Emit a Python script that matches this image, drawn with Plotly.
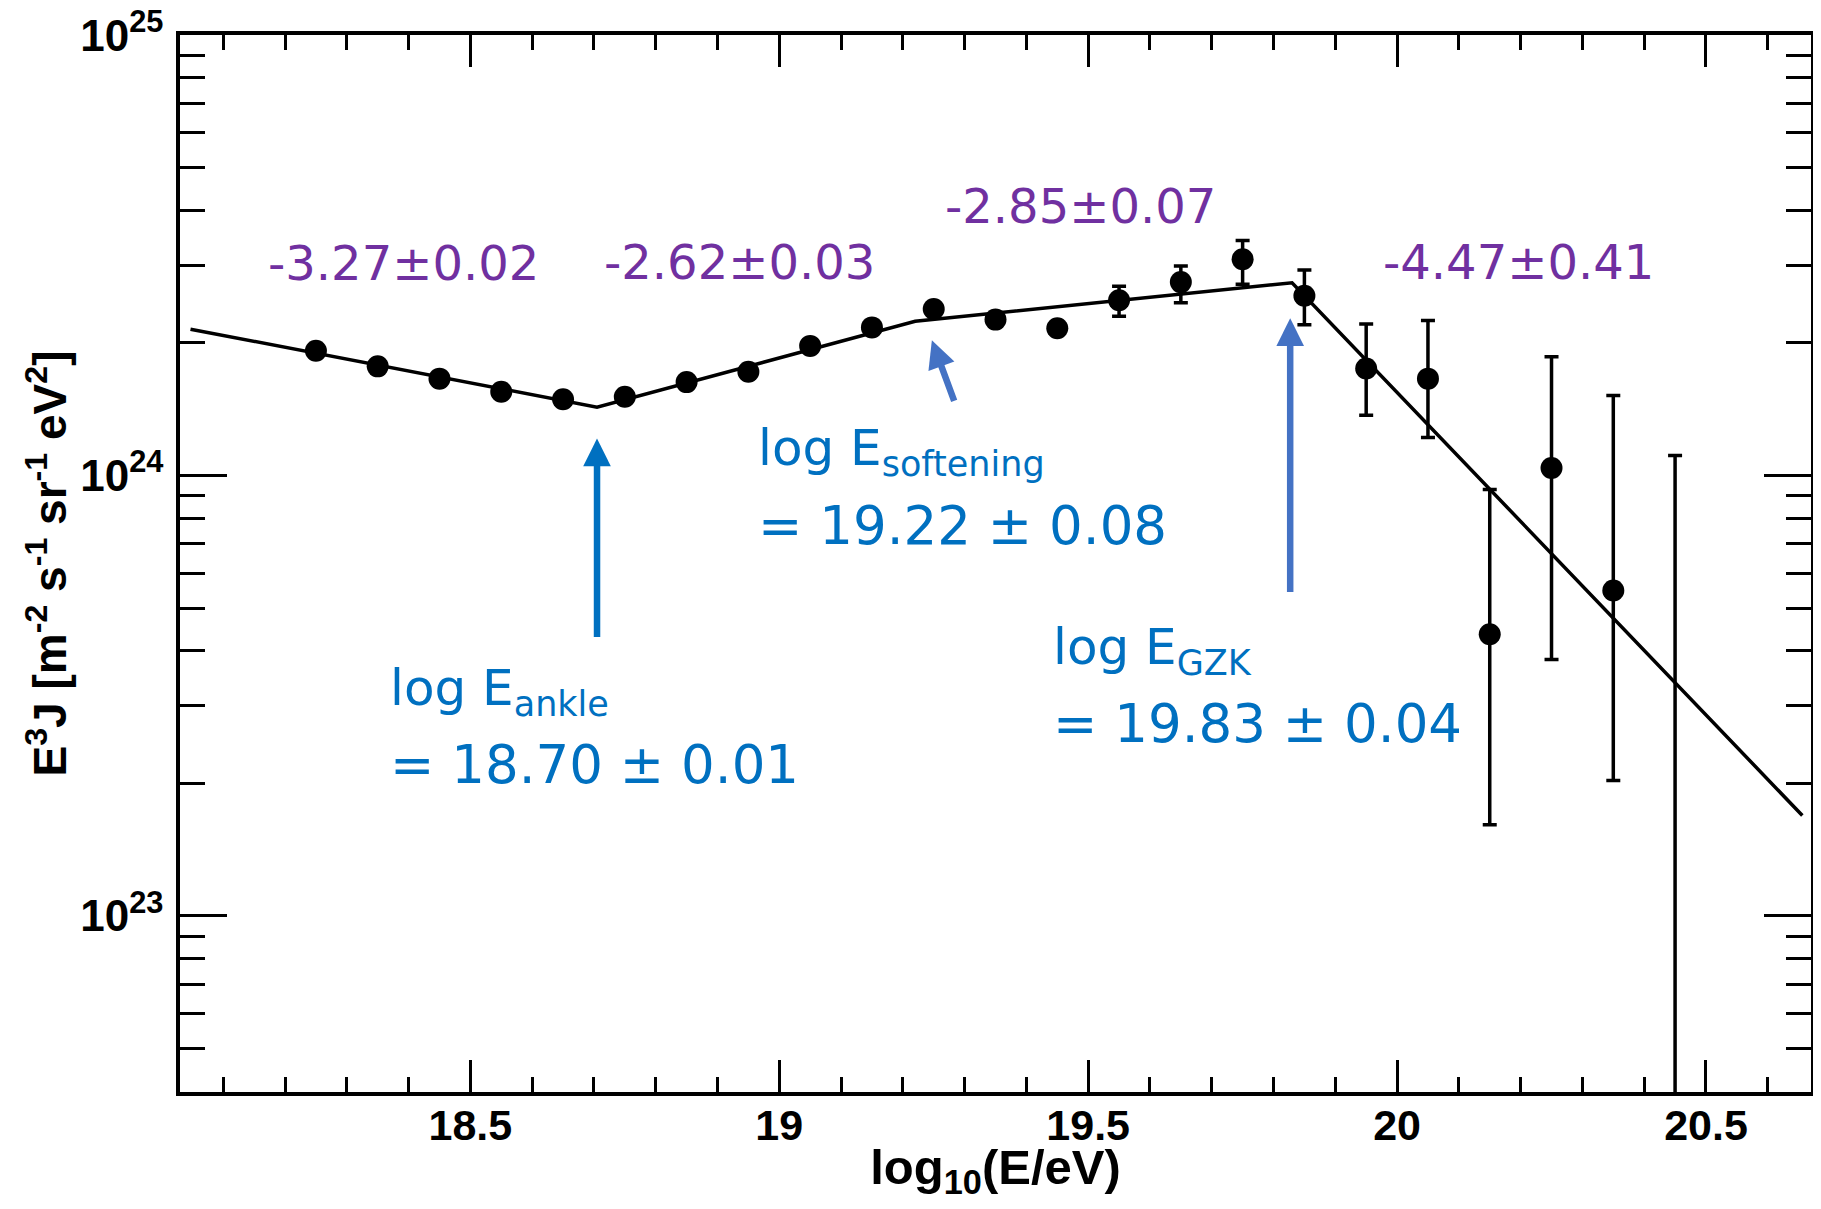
import plotly.graph_objects as go

# ---- data ----
log_e = [18.25, 18.35, 18.45, 18.55, 18.65, 18.75, 18.85, 18.95, 19.05, 19.15, 19.25,
         19.35, 19.45, 19.55, 19.65, 19.75, 19.85, 19.95, 20.05, 20.15, 20.25, 20.35]
e3j = [1.92e24, 1.77e24, 1.66e24, 1.55e24, 1.49e24, 1.51e24, 1.63e24, 1.72e24, 1.97e24, 2.17e24, 2.39e24,
       2.26e24, 2.16e24, 2.50e24, 2.75e24, 3.10e24, 2.56e24, 1.75e24, 1.66e24, 4.36e23, 1.04e24, 5.48e23]
e3j_upper = [1.92e24, 1.77e24, 1.66e24, 1.55e24, 1.49e24, 1.51e24, 1.63e24, 1.72e24, 1.97e24, 2.17e24, 2.39e24,
             2.26e24, 2.16e24, 2.69e24, 2.99e24, 3.42e24, 2.93e24, 2.21e24, 2.25e24, 9.3e23, 1.86e24, 1.52e24]
e3j_lower = [1.92e24, 1.77e24, 1.66e24, 1.55e24, 1.49e24, 1.51e24, 1.63e24, 1.72e24, 1.97e24, 2.17e24, 2.39e24,
             2.26e24, 2.16e24, 2.30e24, 2.47e24, 2.72e24, 2.20e24, 1.37e24, 1.22e24, 1.61e23, 3.82e23, 2.03e23]

# last bin: only the error bar is visible
last_log_e = [20.45]
last_upper = [1.11e24]
last_lower = [1.0e22]

# broken power-law fit (vertices)
fit_log_e = [18.047, 18.705, 19.22, 19.83, 20.656]
fit_e3j = [2.15e24, 1.43e24, 2.24e24, 2.74e24, 1.69e23]

# spectral indices
index_labels = ["-3.27±0.02", "-2.62±0.03", "-2.85±0.07", "-4.47±0.41"]
index_x = [18.392, 18.935, 19.487, 20.197]
index_y = [24.482, 24.486, 24.612, 24.486]

# break annotations
break_names = ["log E<sub>ankle</sub>", "log E<sub>softening</sub>", "log E<sub>GZK</sub>"]
break_values = ["= 18.70 ± 0.01", "= 19.22 ± 0.08", "= 19.83 ± 0.04"]
break_text_x = [18.366, 18.963, 19.440]
break_name_y = [23.509, 24.055, 23.602]
break_value_y = [23.344, 23.886, 23.4375]
arrow_head = [(18.705, 24.084), (19.247, 24.307), (19.827, 24.357)]
arrow_tail = [(18.705, 23.630), (19.284, 24.166), (19.827, 23.732)]
arrow_colors = ["#0070C0", "#4472C4", "#4472C4"]

y_major = [1e23, 1e24, 1e25]
y_major_text = ["10<sup>23</sup>", "10<sup>24</sup>", "10<sup>25</sup>"]
y_minor = [k * 10.0 ** n for n in (22, 23, 24) for k in range(2, 10)]

PURPLE = "#7030A0"
BLUE = "#0070C0"
TXT_FONT = "DejaVu Sans"
AX_FONT = "Liberation Sans"

fig = go.Figure()

fig.add_trace(go.Scatter(
    x=fit_log_e, y=fit_e3j, mode="lines",
    line=dict(color="black", width=3.5), showlegend=False, hoverinfo="skip"))

fig.add_trace(go.Scatter(
    x=log_e, y=e3j, mode="markers",
    marker=dict(color="black", size=22, symbol="circle"),
    error_y=dict(type="data", symmetric=False,
                 array=[u - v for u, v in zip(e3j_upper, e3j)],
                 arrayminus=[v - l for v, l in zip(e3j, e3j_lower)],
                 color="black", thickness=3.5, width=7),
    showlegend=False))

fig.add_trace(go.Scatter(
    x=last_log_e, y=last_upper, mode="markers",
    marker=dict(color="rgba(0,0,0,0)", size=1),
    error_y=dict(type="data", symmetric=False, array=[0],
                 arrayminus=[u - l for u, l in zip(last_upper, last_lower)],
                 color="black", thickness=3.5, width=7),
    showlegend=False))

annotations = []
for t, x, y in zip(index_labels, index_x, index_y):
    annotations.append(dict(x=x, y=y, xref="x", yref="y", text=t, showarrow=False,
                            xanchor="center", yanchor="middle",
                            font=dict(family=TXT_FONT, size=48, color=PURPLE)))
for n, v, x, yn, yv in zip(break_names, break_values, break_text_x, break_name_y, break_value_y):
    annotations.append(dict(x=x, y=yn, xref="x", yref="y", text=n, showarrow=False,
                            xanchor="left", yanchor="middle",
                            font=dict(family=TXT_FONT, size=50, color=BLUE)))
    annotations.append(dict(x=x, y=yv, xref="x", yref="y", text=v, showarrow=False,
                            xanchor="left", yanchor="middle",
                            font=dict(family=TXT_FONT, size=53, color=BLUE)))
for (hx, hy), (tx, ty), c in zip(arrow_head, arrow_tail, arrow_colors):
    annotations.append(dict(x=hx, y=hy, xref="x", yref="y", ax=tx, ay=ty,
                            axref="x", ayref="y", text="", showarrow=True,
                            arrowhead=2, arrowsize=0.85, arrowwidth=6.5,
                            arrowcolor=c, standoff=0))

# the page body has an 8px margin: the figure is sized to fit inside it
fig.update_layout(
    width=1805, height=1193,
    margin=dict(l=172, r=2, t=27, b=109, autoexpand=False),
    paper_bgcolor="white", plot_bgcolor="white",
    annotations=annotations,
    xaxis=dict(
        range=[18.03, 20.67], showgrid=False, zeroline=False, automargin=False,
        showline=True, linecolor="black", linewidth=3.5, mirror="allticks",
        ticks="inside", ticklen=32, tickwidth=3, tickcolor="black",
        tick0=18.5, dtick=0.5,
        minor=dict(ticks="inside", ticklen=15, tickwidth=3, tickcolor="black",
                   tick0=18.0, dtick=0.1, showgrid=False),
        tickfont=dict(family=AX_FONT, size=43, color="black", weight="bold"),
        ticklabelstandoff=-7, ticklabeloverflow="allow",
        title=dict(text="log<sub>10</sub>(E/eV)", standoff=0,
                   font=dict(family=AX_FONT, size=49, color="black", weight="bold")),
    ),
    yaxis=dict(
        type="log", range=[22.6, 25.0005], showgrid=False, zeroline=False, automargin=False,
        showline=True, linecolor="black", linewidth=3.5, mirror="allticks",
        ticks="inside", ticklen=47, tickwidth=3, tickcolor="black",
        tickmode="array", tickvals=y_major, ticktext=y_major_text,
        minor=dict(ticks="inside", ticklen=25, tickwidth=3, tickcolor="black",
                   tickmode="array", tickvals=y_minor, showgrid=False),
        tickfont=dict(family=AX_FONT, size=44, color="black", weight="bold"),
        ticklabelstandoff=4, ticklabeloverflow="allow",
        title=dict(text="E<sup>3</sup>J [m<sup>-2</sup> s<sup>-1</sup> sr<sup>-1</sup> eV<sup>2</sup>]",
                   standoff=0,
                   font=dict(family=AX_FONT, size=46, color="black", weight="bold")),
    ),
)

fig.write_html("out.html")
